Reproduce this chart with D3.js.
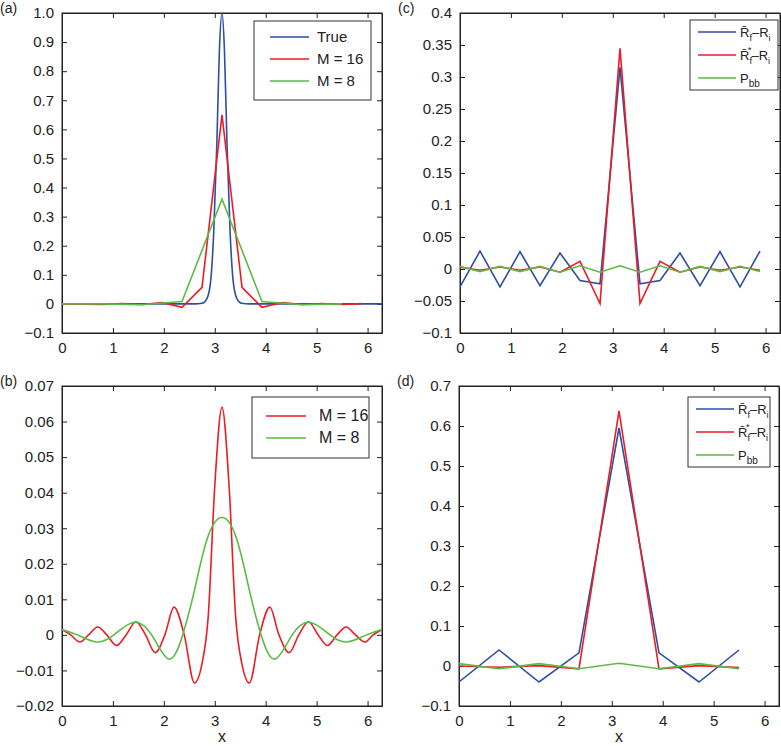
<!DOCTYPE html>
<html>
<head>
<meta charset="utf-8">
<style>
  body { margin: 0; background: #fff; }
  svg { font-family: 'Liberation Sans', Arial, sans-serif; }
</style>
</head>
<body>
<svg width="781" height="746"></svg>
<script src="https://d3js.org/d3.v7.min.js"></script>
<script>
const PI = Math.PI;
const BLUE = "#2c4fa3", RED = "#ec1c24", GREEN = "#5dba46";

// (a) true profile and M = 16 / M = 8 reconstructions
const aTrueX = [0, 2.6, 2.75, 2.85, 2.92, 2.98, 3.04, 3.09, 3.1416, 3.19, 3.24, 3.30, 3.36, 3.43, 3.53, 3.68, 6.2832];
const aTrueY = [0, 0, 0.002, 0.02, 0.08, 0.25, 0.55, 0.87, 1.0, 0.87, 0.55, 0.25, 0.08, 0.02, 0.002, 0, 0];
const a16X = d3.range(16).map(k => k * PI / 8);
const a16Y = [0, -0.001, -0.002, 0.001, -0.002, 0.005, -0.012, 0.057, 0.65, 0.057, -0.012, 0.005, -0.002, 0.001, -0.002, 0.001];
const a8X = d3.range(8).map(k => k * PI / 4);
const a8Y = [0, 0, -0.003, 0.008, 0.36, 0.008, -0.003, 0];

// (b) smooth error curves
const b16X = [0, 0.17, 0.35, 0.52, 0.7, 0.88, 1.07, 1.26, 1.45, 1.64, 1.83, 2.02, 2.2, 2.4, 2.6, 2.75, 2.87, 3.0, 3.1416, 3.28, 3.41, 3.53, 3.68, 3.88, 4.08, 4.26, 4.46, 4.65, 4.84, 5.03, 5.21, 5.4, 5.58, 5.76, 5.95, 6.11, 6.2832];
const b16Y = [0.0015, 0, -0.002, 0, 0.0022, 0, -0.003, 0, 0.0037, 0, -0.005, 0, 0.0078, 0, -0.0135, -0.008, 0.005, 0.042, 0.064, 0.042, 0.005, -0.008, -0.0135, 0, 0.0078, 0, -0.005, 0, 0.0037, 0, -0.003, 0, 0.0022, 0, -0.002, 0, 0.0015];
const b8X = [0, 0.3, 0.68, 1.02, 1.4, 1.76, 2.1, 2.37, 2.6, 2.85, 3.1416, 3.43, 3.68, 3.91, 4.18, 4.52, 4.88, 5.26, 5.6, 5.98, 6.2832];
const b8Y = [0.0015, 0, -0.002, 0, 0.0035, 0, -0.0068, 0, 0.0125, 0.027, 0.033, 0.027, 0.0125, 0, -0.0068, 0, 0.0035, 0, -0.002, 0, 0.0015];

// (c) M = 16 differences
const cX = d3.range(16).map(k => k * PI / 8);
const cBlue = [-0.028, 0.028, -0.028, 0.027, -0.026, 0.025, -0.018, -0.023, 0.315, -0.023, -0.018, 0.025, -0.026, 0.027, -0.028, 0.028];
const cRed = [0.003, -0.002, 0.003, -0.002, 0.003, -0.005, 0.012, -0.054, 0.345, -0.054, 0.012, -0.005, 0.003, -0.002, 0.003, -0.002];
const cGreen = [0.004, -0.004, 0.004, -0.004, 0.004, -0.005, 0.005, -0.005, 0.005, -0.005, 0.005, -0.005, 0.004, -0.004, 0.004, -0.004];

// (d) M = 8 differences
const dX = d3.range(8).map(k => k * PI / 4);
const dBlue = [-0.04, 0.04, -0.04, 0.033, 0.595, 0.033, -0.04, 0.04];
const dRed = [0, -0.003, 0.001, -0.007, 0.638, -0.007, 0.001, -0.004];
const dGreen = [0.006, -0.007, 0.006, -0.007, 0.007, -0.007, 0.006, -0.007];

const xTicks = [0, 1, 2, 3, 4, 5, 6];
const svg = d3.select("svg");

function panel(o) {
  const x = d3.scaleLinear().domain([0, 2 * PI]).range([o.l, o.l + 320]);
  const y = d3.scaleLinear().domain(o.yd).range([o.t + 320, o.t]);
  const g = svg.append("g");
  const ax = (gen, tr) => g.append("g").attr("transform", tr).call(gen);
  ax(d3.axisBottom(x).tickValues(xTicks).tickSizeInner(-5).tickSizeOuter(0).tickPadding(9).tickFormat(d3.format("d")), `translate(0,${o.t + 320})`);
  ax(d3.axisTop(x).tickValues(xTicks).tickSizeInner(-5).tickSizeOuter(0).tickFormat(""), `translate(0,${o.t})`);
  ax(d3.axisLeft(y).tickValues(o.yt).tickSizeInner(-5).tickSizeOuter(0).tickPadding(8).tickFormat(o.fmt), `translate(${o.l},0)`);
  ax(d3.axisRight(y).tickValues(o.yt).tickSizeInner(-5).tickSizeOuter(0).tickFormat(""), `translate(${o.l + 320},0)`);
  g.selectAll(".domain").attr("stroke", "#222");
  g.selectAll(".tick line").attr("stroke", "#222");
  g.selectAll(".tick text").attr("font-size", 15).attr("fill", "#222");
  g.append("rect").attr("x", o.l).attr("y", o.t).attr("width", 320).attr("height", 320)
    .attr("fill", "none").attr("stroke", "#222");

  const clip = "clip" + o.name;
  svg.append("clipPath").attr("id", clip).append("rect")
    .attr("x", o.l).attr("y", o.t).attr("width", 320).attr("height", 320);
  o.series.forEach(s => {
    const line = d3.line().x(i => x(s.x[i])).y(i => y(s.y[i])).curve(s.curve || d3.curveLinear);
    g.append("path").attr("d", line(d3.range(s.x.length)))
      .attr("fill", "none").attr("stroke", s.color).attr("stroke-width", 1.6)
      .attr("clip-path", `url(#${clip})`);
  });

  g.append("text").attr("x", o.l - 62).attr("y", o.t)
    .attr("font-size", 14).attr("fill", "#222").text(`(${o.name})`);
  if (o.xlabel) g.append("text").attr("x", o.l + 160).attr("y", o.t + 356)
    .attr("text-anchor", "middle").attr("font-size", 16).attr("fill", "#222").text("x");

  // legend
  const L = o.leg;
  g.append("rect").attr("x", L.x).attr("y", L.y).attr("width", L.w).attr("height", L.h)
    .attr("fill", "#fff").attr("stroke", "#333");
  o.series.forEach((s, i) => {
    const yy = L.y + L.first + i * L.step;
    g.append("line").attr("x1", L.x + L.pad).attr("x2", L.x + L.pad + L.len)
      .attr("y1", yy).attr("y2", yy).attr("stroke", s.color).attr("stroke-width", 1.6);
    const t = g.append("text").attr("x", L.x + L.pad + L.len + L.gap).attr("y", yy + 5)
      .attr("font-size", L.fs).attr("fill", "#222");
    s.label(t);
  });
}

const plain = str => t => t.text(str);
const rfri = star => t => {
  t.append("tspan").text("R\u0304");
  t.append("tspan").attr("font-size", 9).attr("dy", 4).text("f");
  if (star) t.append("tspan").attr("font-size", 9).attr("dx", -4).attr("dy", -11).text("*");
  t.append("tspan").attr("dy", star ? 7 : -4).text("\u2013R");
  t.append("tspan").attr("font-size", 9).attr("dy", 4).text("i");
};
const pbb = t => {
  t.append("tspan").text("P");
  t.append("tspan").attr("font-size", 10).attr("dy", 4).text("bb");
};

panel({ name: "a", l: 62, t: 13, yd: [-0.1, 1.0], yt: d3.range(-0.1, 1.05, 0.1).map(v => +v.toFixed(1)),
  fmt: v => v === 1 ? "1.0" : (v === 0 ? "0" : (v < 0 ? "\u22120.1" : d3.format(".1f")(v))),
  series: [
    { x: aTrueX, y: aTrueY, color: BLUE, label: plain("True"), curve: d3.curveMonotoneX },
    { x: a16X, y: a16Y, color: RED, label: plain("M = 16") },
    { x: a8X, y: a8Y, color: GREEN, label: plain("M = 8") }],
  leg: { x: 254, y: 21, w: 117, h: 79, first: 16, step: 22, pad: 16, len: 39, gap: 8, fs: 15 } });

panel({ name: "b", l: 62, t: 386, yd: [-0.02, 0.07], yt: [-0.02, -0.01, 0, 0.01, 0.02, 0.03, 0.04, 0.05, 0.06, 0.07],
  fmt: v => v === 0 ? "0" : (v < 0 ? "\u2212" + d3.format(".2f")(-v) : d3.format(".2f")(v)), xlabel: true,
  series: [
    { x: b16X, y: b16Y, color: RED, label: plain("M = 16"), curve: d3.curveMonotoneX },
    { x: b8X, y: b8Y, color: GREEN, label: plain("M = 8"), curve: d3.curveNatural }],
  leg: { x: 252, y: 397, w: 117, h: 61, first: 19, step: 22, pad: 14, len: 40, gap: 13, fs: 16 } });

const fmtC = v => v === 0 ? "0" : (v < 0 ? "\u2212" + d3.format("~g")(-v) : d3.format("~g")(v));
panel({ name: "c", l: 460, t: 13, yd: [-0.1, 0.4], yt: [-0.1, -0.05, 0, 0.05, 0.1, 0.15, 0.2, 0.25, 0.3, 0.35, 0.4],
  fmt: fmtC,
  series: [
    { x: cX, y: cBlue, color: BLUE, label: rfri(false) },
    { x: cX, y: cRed, color: RED, label: rfri(true) },
    { x: cX, y: cGreen, color: GREEN, label: pbb }],
  leg: { x: 690, y: 20, w: 88, h: 70, first: 12, step: 23, pad: 8, len: 38, gap: 4, fs: 13 } });

panel({ name: "d", l: 459, t: 386, yd: [-0.1, 0.7], yt: [-0.1, 0, 0.1, 0.2, 0.3, 0.4, 0.5, 0.6, 0.7],
  fmt: fmtC, xlabel: true,
  series: [
    { x: dX, y: dBlue, color: BLUE, label: rfri(false) },
    { x: dX, y: dRed, color: RED, label: rfri(true) },
    { x: dX, y: dGreen, color: GREEN, label: pbb }],
  leg: { x: 688, y: 397, w: 82, h: 70, first: 12, step: 23, pad: 8, len: 38, gap: 4, fs: 13 } });
</script>
</body>
</html>
